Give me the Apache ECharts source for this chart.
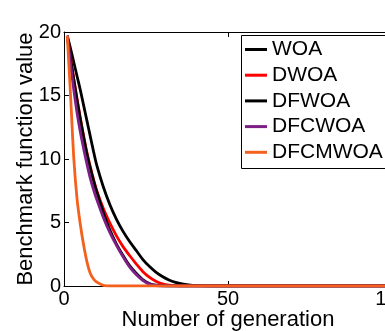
<!DOCTYPE html>
<html>
<head>
<meta charset="utf-8">
<script src="https://cdn.jsdelivr.net/npm/echarts@6/dist/echarts.min.js"></script>
<style>
html,body{margin:0;padding:0;background:#fff;}
#chart{width:385px;height:331px;}
</style>
</head>
<body>
<div id="chart"></div>
<script>
var generations = [1,2,3,4,5,6,7,8,9,10,12,14,16,18,20,22,24,26,28,30,32,34,36,38,40,45,50,60,70,80,90,100];
var woa     = [19.7,18.7,17.6,16.5,15.4,14.2,13.0,11.8,10.6,9.5,7.8,6.4,5.25,4.3,3.5,2.8,2.1,1.55,1.1,0.75,0.48,0.29,0.16,0.08,0.03,0,0,0,0,0,0,0];
var dwoa    = [19.7,18.0,16.3,14.7,13.2,11.8,10.5,9.4,8.4,7.5,6.1,4.95,3.95,3.1,2.4,1.75,1.15,0.7,0.38,0.17,0.06,0.01,0,0,0,0,0,0,0,0,0,0];
var dfwoa   = [19.7,17.9,16.2,14.6,13.1,11.7,10.4,9.3,8.3,7.4,5.8,4.4,3.3,2.4,1.6,1.0,0.5,0.2,0.06,0.01,0,0,0,0,0,0,0,0,0,0,0,0];
var dfcwoa  = [19.7,17.5,15.4,13.6,12.1,10.8,9.6,8.5,7.6,6.8,5.4,4.2,3.2,2.3,1.5,0.9,0.45,0.15,0.04,0,0,0,0,0,0,0,0,0,0,0,0,0];
var dfcmwoa = [19.7,15.0,10.0,6.8,4.8,3.2,1.9,1.0,0.55,0.3,0.05,0,0,0,0,0,0,0,0,0,0,0,0,0,0,0,0,0,0,0,0,0];
var seriesNames = ['WOA','DWOA','DFWOA','DFCWOA','DFCMWOA'];
var seriesValues = [woa, dwoa, dfwoa, dfcwoa, dfcmwoa];
var seriesColors = ['#000000','#ff0000','#000000','#7e1f86','#f4601e'];
var xTicks = [0,50,100];
var yTicks = [0,5,10,15,20];

var FONT = '"Liberation Sans", Arial, Helvetica, sans-serif';
var chart = echarts.init(document.getElementById('chart'), null, {renderer:'canvas'});

function pairs(vals){
  return generations.map(function(g,i){ return [g, vals[i]]; });
}

var series = seriesNames.map(function(n,i){
  return {
    name: n, type: 'line', data: pairs(seriesValues[i]),
    showSymbol: false, symbol: 'none', smooth: 0.3,
    lineStyle: {color: seriesColors[i], width: 2.8},
    itemStyle: {color: seriesColors[i]},
    animation: false
  };
});

chart.setOption({
  animation: false,
  textStyle: {fontFamily: FONT},
  grid: {left: 64, top: 32, right: -7, bottom: 45, containLabel: false, outerBoundsMode: 'none'},
  graphic: [{
    type: 'rect', z: 4, silent: true,
    shape: {x: 241.5, y: 35.5, width: 170, height: 133},
    style: {fill: '#fff', stroke: '#000', lineWidth: 1}
  }],
  legend: {
    orient: 'vertical', left: 241, top: 35, z: 6,
    padding: [4, 4, 4, 4],
    backgroundColor: 'transparent', borderWidth: 0,
    itemWidth: 22, itemHeight: 3, itemGap: 4.7,
    icon: 'rect',
    textStyle: {fontFamily: FONT, fontSize: 21, color: '#000', lineHeight: 21, padding: [0,0,0,0]},
    data: seriesNames
  },
  xAxis: [{
    type: 'value', min: xTicks[0], max: xTicks[xTicks.length-1], interval: 50, z: 3,
    name: 'Number of generation', nameLocation: 'middle', nameGap: 23, nameMoveOverlap: false,
    nameTextStyle: {fontFamily: FONT, fontSize: 22, color: '#000'},
    axisLine: {show: true, lineStyle: {color: '#000', width: 1}},
    axisTick: {show: true, inside: true, length: 5, lineStyle: {color: '#000'}},
    axisLabel: {fontFamily: FONT, fontSize: 20, color: '#000', margin: 3, showMaxLabel: true},
    splitLine: {show: false}
  },{
    type: 'value', position: 'top', min: 0, max: 100, interval: 50, z: 3,
    axisLine: {show: true, onZero: false, lineStyle: {color: '#000', width: 1}},
    axisTick: {show: true, inside: true, length: 5, lineStyle: {color: '#000'}},
    axisLabel: {show: false}, splitLine: {show: false}
  }],
  yAxis: {
    type: 'value', min: yTicks[0], max: yTicks[yTicks.length-1], interval: 5, z: 3,
    name: 'Benchmark function value', nameLocation: 'middle', nameGap: 27, nameMoveOverlap: false,
    nameTextStyle: {fontFamily: FONT, fontSize: 22, color: '#000'},
    axisLine: {show: true, lineStyle: {color: '#000', width: 1}},
    axisTick: {show: true, inside: true, length: 5, lineStyle: {color: '#000'}},
    axisLabel: {fontFamily: FONT, fontSize: 20, color: '#000', margin: 3},
    splitLine: {show: false}
  },
  series: series
});
</script>
</body>
</html>
